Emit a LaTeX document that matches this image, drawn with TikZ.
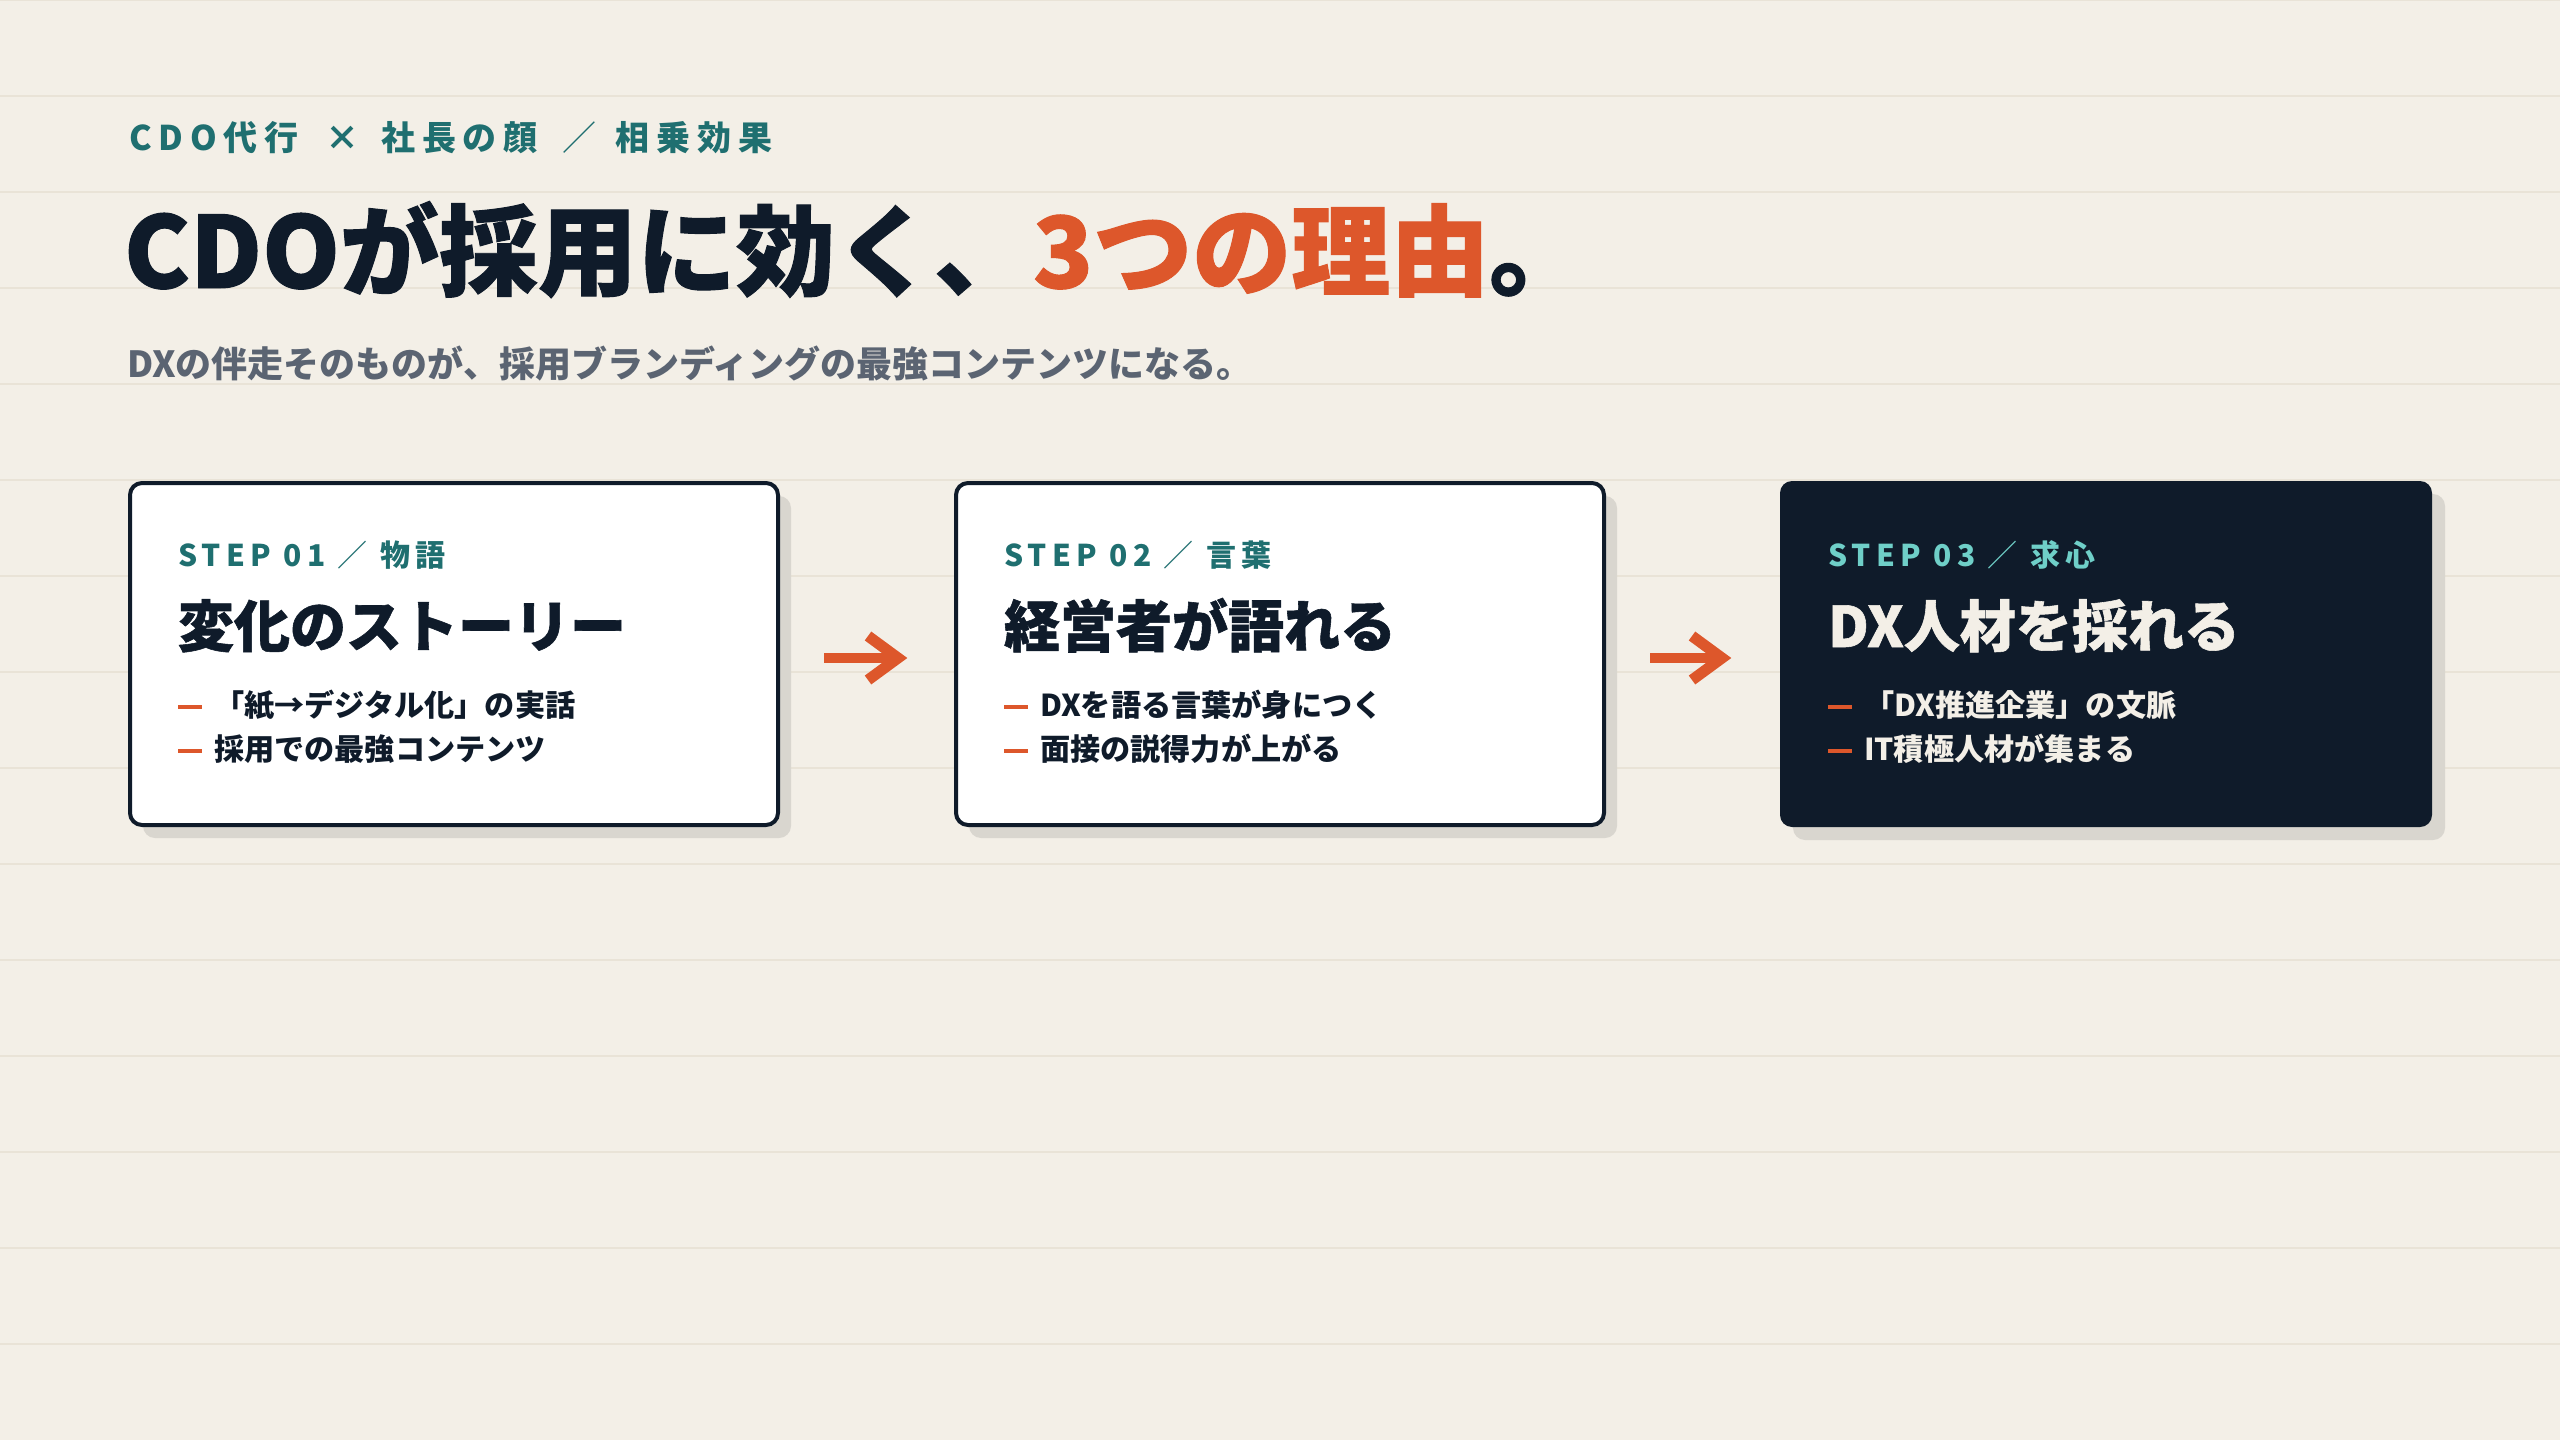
\documentclass[tikz,border=0pt]{standalone}
\usepackage{fontspec}
\setmainfont{Noto Sans CJK JP}
\newfontfamily\jpls{Noto Sans CJK JP}[LetterSpace=20]
\newfontfamily\jpst{Noto Sans CJK JP}[LetterSpace=18]
\newfontfamily\jpheavy{Noto Sans CJK JP}[BoldFeatures={FakeBold=1}]
\usetikzlibrary{calc,shadows}
\definecolor{bgc}{HTML}{F3EFE7}
\definecolor{gridc}{HTML}{E9E3D7}
\definecolor{navy}{HTML}{0F1B2A}
\definecolor{tealc}{HTML}{1F6F70}
\definecolor{accent}{HTML}{DD572B}
\definecolor{grayc}{HTML}{5B6472}
\definecolor{shadowc}{HTML}{D9D6CF}
\definecolor{lteal}{HTML}{6FCFC8}
\definecolor{cream}{HTML}{F3EFE7}
\tikzset{
  txt/.style={anchor=base west, inner sep=0, outer sep=0},
  card/.style={rectangle, rounded corners=3.6pt, inner sep=0, outer sep=0,
    drop shadow={shadow xshift=3.9pt, shadow yshift=-3.9pt, fill=shadowc, opacity=1}},
  lightcard/.style={card, fill=white, draw=navy, line width=1.2pt, minimum width=194.4pt, minimum height=102.6pt},
  darkcard/.style={card, fill=navy, minimum width=195.6pt, minimum height=103.8pt},
  steplbl/.style={txt, font=\jpst\bfseries\fontsize{9}{11}\selectfont, text=tealc},
  cardttl/.style={txt, font=\jpheavy\bfseries\fontsize{16.8}{20}\selectfont, text=navy},
  bullet/.style={txt, font=\bfseries\fontsize{9.05}{11}\selectfont, text=navy},
  dashc/.style={draw=accent, line width=1.2pt},
  arrshaft/.style={draw=accent, line width=3pt},
  arrhead/.style={draw=accent, line width=3.3pt, miter limit=4, line join=miter},
}
\begin{document}
\begin{tikzpicture}[x=0.3pt,y=-0.3pt]
\fill[bgc] (0,0) rectangle (2560,1440);
\useasboundingbox (0,0) rectangle (2560,1440);
\foreach \k in {0,...,14} \draw[gridc, line width=0.6pt] (0,96*\k) -- (2560,96*\k);

% header
\node[txt, font=\jpls\bfseries\fontsize{10.2}{12}\selectfont, text=tealc] (hdr) at (129,150) {CDO代行 \hspace{3.9pt}×\hspace{2pt} 社長の顔 \hspace{3pt}{\mdseries ／}\hspace{1.5pt} 相乗効果};
\node[txt, font=\jpheavy\bfseries\fontsize{29.7}{34}\selectfont, text=navy] (ttl) at (124,288) {CDOが採用に効く、\textcolor{accent}{3つの理由}。};
\node[txt, font=\bfseries\fontsize{10.8}{12}\selectfont, text=grayc] (sub) at (127,377) {DXの伴走そのものが、採用ブランディングの最強コンテンツになる。};

% cards
\node[lightcard] (c1) at (454,654) {};
\node[lightcard] (c2) at (1280,654) {};
\node[darkcard] (c3) at (2106,654) {};

% card 1
\node[steplbl] (s1) at (178,566) {STEP 01 {\mdseries ／} 物語};
\node[cardttl] (t1) at (178,647) {変化のストーリー};
\draw[dashc] (178,707) -- (202,707);
\node[bullet] (b11) at (214,716) {「紙→デジタル化」の実話};
\draw[dashc] (178,751) -- (202,751);
\node[bullet] (b12) at (214,760) {採用での最強コンテンツ};

% card 2
\node[steplbl] (s2) at (1004,566) {STEP 02 {\mdseries ／} 言葉};
\node[cardttl] (t2) at (1004,647) {経営者が語れる};
\draw[dashc] (1004,707) -- (1028,707);
\node[bullet] (b21) at (1040,716) {DXを語る言葉が身につく};
\draw[dashc] (1004,751) -- (1028,751);
\node[bullet] (b22) at (1040,760) {面接の説得力が上がる};

% card 3
\node[steplbl, text=lteal] (s3) at (1828,566) {STEP 03 {\mdseries ／} 求心};
\node[cardttl, text=cream] (t3) at (1828,647) {DX人材を採れる};
\draw[dashc] (1828,707) -- (1852,707);
\node[bullet, text=cream] (b31) at (1864,716) {「DX推進企業」の文脈};
\draw[dashc] (1828,751) -- (1852,751);
\node[bullet, text=cream] (b32) at (1864,760) {IT積極人材が集まる};

% arrows
\draw[arrshaft] ($(c1.east)+(46,4)$) -- ($(c2.west)+(-58,4)$);
\draw[arrhead] ($(c2.west)+(-88,-18)$) -- ($(c2.west)+(-58,4)$) -- ($(c2.west)+(-88,26)$);
\draw[arrshaft] ($(c2.east)+(46,4)$) -- ($(c3.west)+(-58,4)$);
\draw[arrhead] ($(c3.west)+(-88,-18)$) -- ($(c3.west)+(-58,4)$) -- ($(c3.west)+(-88,26)$);
\end{tikzpicture}
\end{document}
